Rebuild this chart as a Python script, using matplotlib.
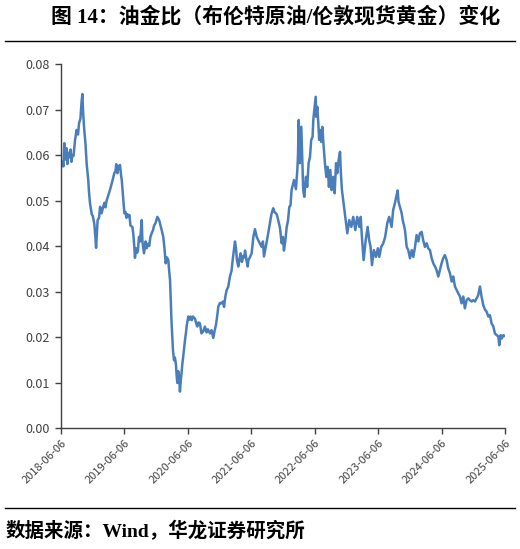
import numpy as np
import pandas as pd
import matplotlib
matplotlib.use("Agg")
import matplotlib.pyplot as plt

plt.rcParams['font.family'] = ['Noto Sans CJK SC', 'DejaVu Sans']

start = "2018-06-06"

# days since start date
days = [
    0, 9, 14, 19, 26, 32, 37, 43, 49, 55, 60, 66, 72, 81, 90, 98, 104, 112, 118, 123,
    128, 134, 141, 148, 157, 161, 167, 173, 177, 184, 192, 198, 202, 207, 211, 219, 225, 234, 242, 250,
    256, 263, 271, 282, 294, 307, 314, 318, 325, 331, 340, 346, 350, 357, 365, 371, 377, 383, 388, 394,
    400, 411, 416, 422, 426, 432, 438, 443, 449, 455, 465, 469, 478, 487, 493, 501, 508, 515, 522, 530,
    536, 544, 555, 561, 567, 573, 580, 589, 596, 603, 610, 618, 623, 628, 633, 637, 641, 645, 651, 656,
    662, 666, 670, 675, 681, 685, 689, 695, 700, 704, 709, 714, 720, 724, 733, 740, 746, 753, 760, 772,
    780, 785, 792, 800, 809, 819, 829, 838, 846, 858, 867, 877, 884, 893, 901, 906, 916, 925, 933, 939,
    947, 954, 963, 973, 982, 989, 1002, 1008, 1013, 1021, 1028, 1035, 1042, 1050, 1056, 1060, 1068, 1075, 1080, 1088,
    1098, 1108, 1117, 1127, 1136, 1146, 1156, 1163, 1169, 1178, 1185, 1192, 1203, 1212, 1222, 1229, 1242, 1251, 1261, 1271,
    1278, 1284, 1293, 1300, 1307, 1315, 1322, 1328, 1342, 1353, 1361, 1365, 1369, 1375, 1384, 1388, 1395, 1401, 1411, 1418,
    1426, 1434, 1441, 1449, 1453, 1459, 1467, 1470, 1476, 1482, 1487, 1493, 1499, 1505, 1510, 1520, 1528, 1536, 1543, 1551,
    1559, 1568, 1576, 1584, 1591, 1599, 1607, 1612, 1618, 1630, 1637, 1649, 1660, 1672, 1683, 1695, 1706, 1718, 1726, 1733,
    1743, 1755, 1766, 1775, 1783, 1791, 1802, 1814, 1825, 1833, 1844, 1856, 1867, 1879, 1890, 1904, 1913, 1923, 1929, 1939,
    1944, 1952, 1962, 1968, 1975, 1981, 1991, 2000, 2010, 2020, 2029, 2039, 2048, 2058, 2067, 2077, 2086, 2096, 2106, 2115,
    2125, 2135, 2144, 2154, 2163, 2173, 2182, 2192, 2201, 2211, 2221, 2230, 2240, 2250, 2259, 2269, 2279, 2288, 2298, 2307,
    2317, 2326, 2336, 2346, 2355, 2365, 2374, 2384, 2394, 2403, 2413, 2422, 2432, 2442, 2451, 2461, 2470, 2480, 2490, 2499,
    2509, 2519, 2524, 2532, 2539, 2547, 2557,
]

# 布伦特原油 / 伦敦现货黄金
ratio = [
    0.0574, 0.0585, 0.0575, 0.0626, 0.0590, 0.0615, 0.0580, 0.0605, 0.0595, 0.0612, 0.0585, 0.0600, 0.0598, 0.0633, 0.0655, 0.0645, 0.0670, 0.0680, 0.0715, 0.0734,
    0.0690, 0.0655, 0.0625, 0.0580, 0.0545, 0.0520, 0.0494, 0.0480, 0.0470, 0.0465, 0.0448, 0.0420, 0.0396, 0.0430, 0.0457, 0.0462, 0.0486, 0.0472, 0.0485, 0.0495,
    0.0485, 0.0500, 0.0510, 0.0523, 0.0540, 0.0560, 0.0565, 0.0580, 0.0560, 0.0575, 0.0578, 0.0555, 0.0545, 0.0510, 0.0472, 0.0475, 0.0462, 0.0470, 0.0464, 0.0468,
    0.0445, 0.0442, 0.0428, 0.0400, 0.0374, 0.0395, 0.0385, 0.0390, 0.0420, 0.0410, 0.0457, 0.0410, 0.0384, 0.0410, 0.0395, 0.0405, 0.0400, 0.0420, 0.0428, 0.0435,
    0.0445, 0.0450, 0.0464, 0.0460, 0.0455, 0.0445, 0.0435, 0.0420, 0.0395, 0.0362, 0.0375, 0.0369, 0.0345, 0.0325, 0.0270, 0.0230, 0.0201, 0.0170, 0.0149, 0.0155,
    0.0140, 0.0115, 0.0099, 0.0125, 0.0110, 0.0080, 0.0100, 0.0125, 0.0145, 0.0157, 0.0175, 0.0193, 0.0210, 0.0225, 0.0245, 0.0238, 0.0245, 0.0237, 0.0245, 0.0240,
    0.0228, 0.0223, 0.0232, 0.0230, 0.0208, 0.0212, 0.0223, 0.0210, 0.0217, 0.0208, 0.0215, 0.0198, 0.0212, 0.0228, 0.0250, 0.0267, 0.0275, 0.0274, 0.0278, 0.0266,
    0.0290, 0.0303, 0.0310, 0.0333, 0.0345, 0.0370, 0.0410, 0.0395, 0.0370, 0.0355, 0.0372, 0.0384, 0.0365, 0.0378, 0.0375, 0.0390, 0.0370, 0.0355, 0.0370, 0.0375,
    0.0384, 0.0420, 0.0437, 0.0420, 0.0413, 0.0405, 0.0398, 0.0410, 0.0377, 0.0395, 0.0410, 0.0425, 0.0450, 0.0470, 0.0483, 0.0475, 0.0470, 0.0457, 0.0440, 0.0406,
    0.0420, 0.0390, 0.0415, 0.0442, 0.0455, 0.0486, 0.0490, 0.0523, 0.0545, 0.0525, 0.0567, 0.0600, 0.0677, 0.0582, 0.0662, 0.0611, 0.0523, 0.0508, 0.0552, 0.0530,
    0.0582, 0.0596, 0.0633, 0.0640, 0.0677, 0.0699, 0.0728, 0.0684, 0.0706, 0.0670, 0.0633, 0.0655, 0.0629, 0.0662, 0.0633, 0.0582, 0.0552, 0.0574, 0.0530, 0.0567,
    0.0523, 0.0552, 0.0516, 0.0582, 0.0560, 0.0589, 0.0607, 0.0560, 0.0523, 0.0486, 0.0464, 0.0428, 0.0457, 0.0442, 0.0464, 0.0435, 0.0464, 0.0442, 0.0464, 0.0420,
    0.0369, 0.0413, 0.0442, 0.0413, 0.0398, 0.0358, 0.0391, 0.0376, 0.0395, 0.0376, 0.0398, 0.0406, 0.0420, 0.0450, 0.0464, 0.0442, 0.0479, 0.0494, 0.0505, 0.0522,
    0.0497, 0.0486, 0.0472, 0.0457, 0.0446, 0.0435, 0.0398, 0.0391, 0.0373, 0.0391, 0.0376, 0.0398, 0.0424, 0.0410, 0.0428, 0.0431, 0.0413, 0.0398, 0.0406, 0.0395,
    0.0391, 0.0373, 0.0362, 0.0355, 0.0347, 0.0333, 0.0347, 0.0362, 0.0373, 0.0380, 0.0369, 0.0351, 0.0340, 0.0322, 0.0333, 0.0311, 0.0303, 0.0296, 0.0289, 0.0274,
    0.0289, 0.0263, 0.0281, 0.0285, 0.0281, 0.0278, 0.0281, 0.0278, 0.0285, 0.0292, 0.0311, 0.0289, 0.0270, 0.0260, 0.0256, 0.0245, 0.0248, 0.0230, 0.0223, 0.0208,
    0.0204, 0.0201, 0.0182, 0.0204, 0.0197, 0.0204, 0.0202,
]

tick_dates = ["2018-06-06", "2019-06-06", "2020-06-06", "2021-06-06",
              "2022-06-06", "2023-06-06", "2024-06-06", "2025-06-06"]

dates = pd.Timestamp(start) + pd.to_timedelta(days, unit="D")

fig = plt.figure(figsize=(5.2, 5.49), dpi=100)
ax = fig.add_axes([0.1173, 0.2204, 0.8538, 0.663])

ax.plot(dates, ratio, color="#4a7ebb", lw=1.8)

ax.set_ylim(0, 0.08)
ax.set_yticks(np.arange(0, 0.081, 0.01))
ax.set_yticklabels([f"{v:.2f}" for v in np.arange(0, 0.081, 0.01)])
ax.set_xlim(pd.Timestamp(tick_dates[0]), pd.Timestamp(tick_dates[-1]))
ax.set_xticks(pd.to_datetime(tick_dates))
ax.set_xticklabels(tick_dates, rotation=45, ha="right", rotation_mode="anchor")

for s in ["top", "right"]:
    ax.spines[s].set_visible(False)
for s in ["left", "bottom"]:
    ax.spines[s].set_color("#404040")
    ax.spines[s].set_linewidth(1.0)
ax.tick_params(axis="both", colors="#404040", length=4, width=1.0)
ax.tick_params(axis="y", labelsize=9, pad=4)
ax.tick_params(axis="x", labelsize=8, pad=3)

title_font = ["Liberation Serif", "Noto Sans CJK SC"]
fig.text(0.53, 0.968, "图 14：油金比（布伦特原油/伦敦现货黄金）变化",
         ha="center", va="center", fontsize=15, fontweight="bold",
         family=title_font, color="black")
fig.text(0.01, 0.033, "数据来源：Wind，华龙证券研究所",
         ha="left", va="center", fontsize=14, fontweight="bold",
         family=title_font, color="black")

fig.add_artist(plt.Line2D([0.01, 0.99], [1 - 41 / 549] * 2, color="black", lw=1.0))
fig.add_artist(plt.Line2D([0.01, 0.99], [1 - 508 / 549] * 2, color="black", lw=1.0))

fig.savefig("out.png", dpi=100)
